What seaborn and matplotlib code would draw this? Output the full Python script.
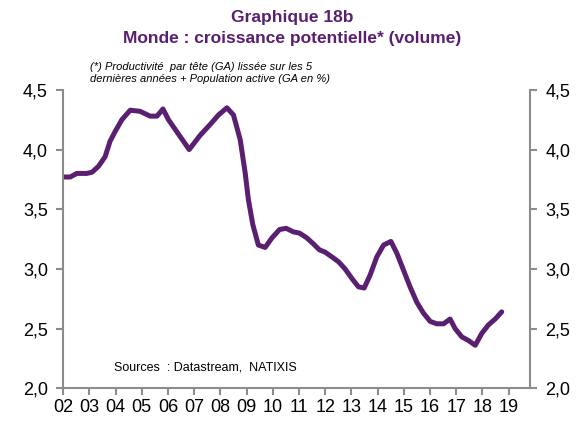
import matplotlib
matplotlib.use('Agg')
import matplotlib.pyplot as plt
import seaborn as sns
import pandas as pd
from matplotlib.ticker import FuncFormatter

# années (décimales, depuis 2002) et croissance potentielle en %
years_off = [0.00, 0.27, 0.52, 0.90, 1.10, 1.35, 1.60, 1.79, 1.98, 2.24,
             2.56, 2.94, 3.32, 3.58, 3.81, 4.02, 4.81, 5.23, 5.61, 5.93,
             6.25, 6.50, 6.76, 6.95, 7.07, 7.24, 7.45, 7.71, 7.97, 8.26,
             8.51, 8.79, 9.02, 9.30, 9.55, 9.78, 10.00, 10.26, 10.51, 10.76,
             11.02, 11.27, 11.49, 11.72, 11.97, 12.23, 12.51, 12.74, 12.99, 13.24,
             13.50, 13.75, 14.01, 14.26, 14.52, 14.77, 14.96, 15.22, 15.47, 15.73,
             15.98, 16.23, 16.49, 16.74]
growth = [3.77, 3.77, 3.80, 3.80, 3.81, 3.86, 3.94, 4.07, 4.15, 4.25,
          4.33, 4.32, 4.28, 4.28, 4.34, 4.25, 4.00, 4.12, 4.21, 4.29,
          4.35, 4.29, 4.08, 3.80, 3.58, 3.37, 3.20, 3.18, 3.26, 3.33,
          3.34, 3.31, 3.30, 3.26, 3.21, 3.16, 3.14, 3.10, 3.06, 3.00,
          2.92, 2.85, 2.84, 2.95, 3.10, 3.20, 3.23, 3.13, 2.99, 2.85,
          2.72, 2.63, 2.56, 2.54, 2.54, 2.58, 2.50, 2.43, 2.40, 2.36,
          2.46, 2.53, 2.58, 2.64]
tick_years = list(range(2002, 2020))
tick_labels = [f'{y % 100:02d}' for y in tick_years]
yticks = [2.0, 2.5, 3.0, 3.5, 4.0, 4.5]

df = pd.DataFrame({'annee': [2002 + v for v in years_off], 'croissance': growth})

sns.set_style('white')
plt.rcParams['font.family'] = ['Liberation Sans', 'DejaVu Sans']

purple = '#5a1f70'
grey = '#8c8c8c'

fig = plt.figure(figsize=(5.85, 4.22), dpi=100)
ax = fig.add_axes([0.108, 0.080, 0.798, 0.707])
sns.lineplot(data=df, x='annee', y='croissance', color=purple, linewidth=3.6, ax=ax)

ax.set_xlim(2002, 2019.82)
ax.set_ylim(2.0, 4.5)
ax.set_xticks(tick_years)
ax.set_xticklabels(tick_labels)
ax.set_yticks(yticks)
ax.yaxis.set_major_formatter(FuncFormatter(lambda v, p: f'{v:.1f}'.replace('.', ',')))
ax.set_xlabel('')
ax.set_ylabel('')

ax.spines['top'].set_visible(False)
for s in ['left', 'right', 'bottom']:
    ax.spines[s].set_color(grey)
    ax.spines[s].set_linewidth(1.5)
ax.tick_params(axis='both', which='major', length=5, width=1.5, color=grey,
               labelsize=13, labelcolor='black', direction='out')
ax.tick_params(axis='y', left=True, right=True, labelleft=True, labelright=True, pad=6)
ax.tick_params(axis='x', bottom=True, pad=3)

fig.text(0.5, 0.958, 'Graphique 18b', ha='center', va='center',
         fontsize=12.5, fontweight='bold', color=purple)
fig.text(0.5, 0.908, 'Monde : croissance potentielle* (volume)', ha='center', va='center',
         fontsize=12.5, fontweight='bold', color=purple)
fig.text(0.153, 0.827, "(*) Productivité  par tête (GA) lissée sur les 5\ndernières années + Population active (GA en %)",
         ha='left', va='center', fontsize=8, style='italic', color='black', linespacing=1.3)
ax.text(0.109, 0.07, 'Sources  : Datastream,  NATIXIS', transform=ax.transAxes,
        ha='left', va='center', fontsize=9, color='black')

fig.savefig('out.png', dpi=100)
